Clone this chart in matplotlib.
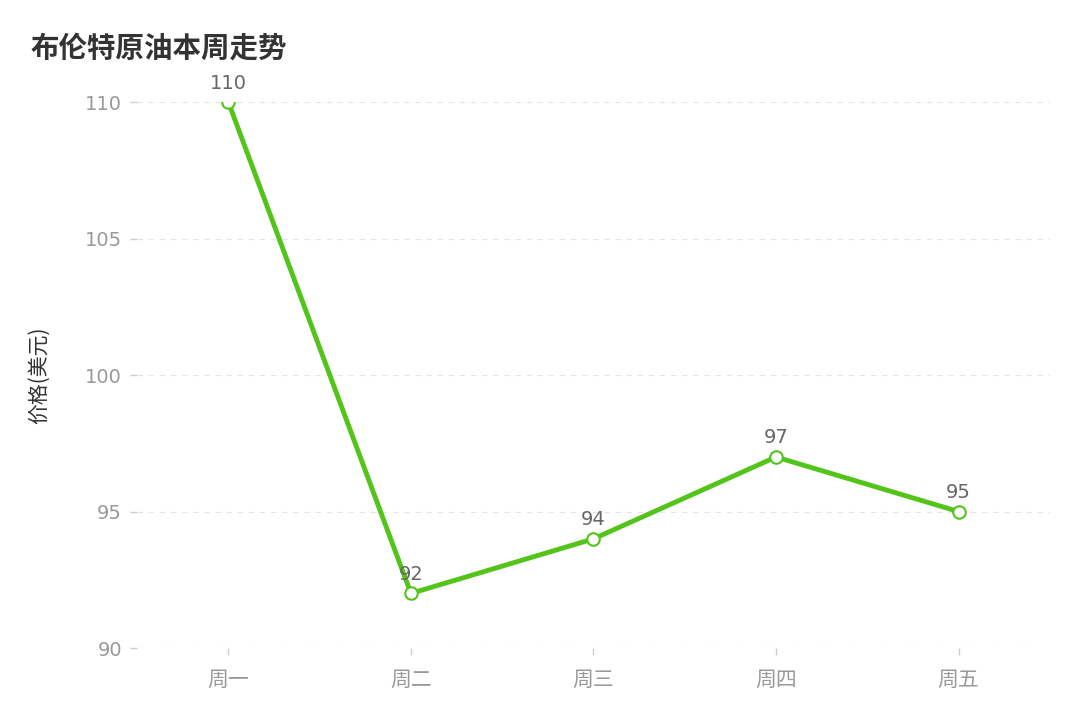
import matplotlib
matplotlib.use("Agg")
import matplotlib.pyplot as plt

plt.rcParams['font.family'] = ['DejaVu Sans', 'Noto Sans CJK SC']

# 数据
days = ["周一", "周二", "周三", "周四", "周五"]
prices = [110, 92, 94, 97, 95]

line_color = "#52c41a"

fig = plt.figure(figsize=(10.8, 7.2), dpi=100)
ax = fig.add_axes([0.127, 0.10, 0.845, 0.758])

x = list(range(len(days)))
ax.plot(x, prices, color=line_color, linewidth=3.5, marker="o",
        markersize=9, markerfacecolor="white", markeredgecolor=line_color,
        markeredgewidth=1.5, zorder=3)

for xi, v in zip(x, prices):
    ax.annotate(str(v), (xi, v), xytext=(0, 7), textcoords="offset points",
                ha="center", va="bottom", fontsize=14, color="#666666")

ax.set_xlim(-0.5, 4.5)
ax.set_ylim(90, 110)
ax.set_yticks([90, 95, 100, 105, 110])
ax.set_xticks(x)
ax.set_xticklabels(days, family=['Noto Sans CJK SC', 'DejaVu Sans'])

for s in ax.spines.values():
    s.set_visible(False)

ax.grid(axis="y", linestyle=(0, (5, 5)), color="#e6e6e6", linewidth=0.8)
ax.set_axisbelow(True)
ax.tick_params(axis="both", colors="#999999", labelsize=14, length=5,
               width=1, color="#cccccc", pad=6)
ax.tick_params(axis="x", pad=10, labelsize=15)

ax.set_ylabel("价格(美元)", fontsize=15, color="#333333", labelpad=25,
              family=['Noto Sans CJK SC', 'DejaVu Sans'])

fig.text(0.028, 0.933, "布伦特原油本周走势", fontsize=20.5, fontweight="bold",
         color="#333333", ha="left", va="center",
         family=['Noto Sans CJK SC', 'DejaVu Sans'])

fig.savefig("out.png", dpi=100, facecolor="white")
